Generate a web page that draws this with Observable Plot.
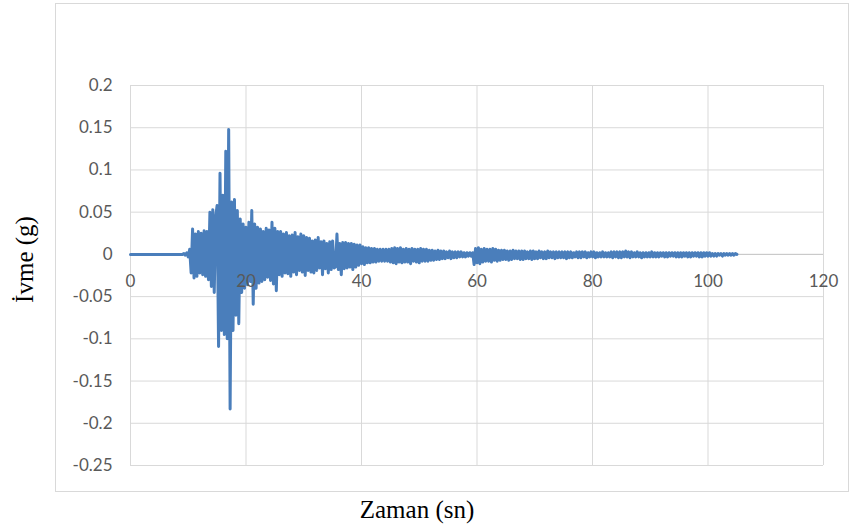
<!DOCTYPE html>
<html>
<head>
<meta charset="utf-8">
<script src="https://cdn.jsdelivr.net/npm/d3@7"></script>
<script src="https://cdn.jsdelivr.net/npm/@observablehq/plot@0.6"></script>
<style>
  html, body { margin: 0; padding: 0; background: #ffffff; }
  #wrap { position: relative; width: 850px; height: 527px; overflow: hidden; }
  #border { position: absolute; left: 55px; top: 3px; width: 792px; height: 487px; border: 1px solid #d9d9d9; box-sizing: content-box; }
  #wrap svg { position: absolute; left: 0; top: 0; }
</style>
</head>
<body>
<div id="wrap"><div id="border"></div></div>
<script>
// ---- data ----
const xTicks = [0, 20, 40, 60, 80, 100, 120];
const xTickLabels = ["0", "20", "40", "60", "80", "100", "120"];
const yTicks = [-0.25, -0.2, -0.15, -0.1, -0.05, 0, 0.05, 0.1, 0.15, 0.2];
const yTickLabels = ["-0.25", "-0.2", "-0.15", "-0.1", "-0.05", "0", "0.05", "0.1", "0.15", "0.2"];
const xTitle = "Zaman (sn)";
const yTitle = "İvme (g)";

// record is flat (0 g) from t = 0 s until the samples below start
const quietStart = 0;
const quietValue = 0;
// accelerogram samples, milli-g, one every 0.25 s starting at t = 9 s (4 per line = 1 s)
const sampleStart = 9;
const sampleStep = 0.25;
const accelMg = [
  0, 1, -1, 2,        // 9
  -3, 6, -22, 30,     // 10
  -28, 24, -26, 27,   // 11
  -22, 25, -24, 28,   // 12
  -26, 27, -30, 50,   // 13
  -38, 53, -45, 45,   // 14
  58, -109, 96, -90,  // 15
  70, -95, 122, -100, // 16
  148, -183, 62, -90, // 17
  65, -72, 52, -82,   // 18
  42, -45, 36, -40,   // 19
  32, -36, 38, -32,   // 20
  52, -59, 36, -40,   // 21
  32, -34, 30, -32,   // 22
  27, -30, 31, -27,   // 23
  29, -31, 38, -35,   // 24
  31, -43, 27, -24,   // 25
  27, -26, 24, -22,   // 26
  26, -23, 22, -26,   // 27
  23, -21, 26, -24,   // 28
  21, -19, 24, -21,   // 29
  22, -25, 20, -19,   // 30
  19, -21, 16, -22,   // 31
  17, -19, 20, -16,   // 32
  15, -24, 16, -17,   // 33
  13, -22, 15, -18,   // 34
  16, -16, -15, 24,   // 35
  -18, 13, -24, 14,   // 36
  -17, 14, -16, 13,   // 37
  -15, 13, -18, 12,   // 38
  -15, 11, -13, 11,   // 39
  -11, 9, -12, 8,     // 40
  -10, 8, -10, 7,     // 41
  -9, 7, -9, 6,       // 42
  -8, 6, -8, 6,       // 43
  -8, 6, -8, 6,       // 44
  -9, 7, -10, 8,      // 45
  -11, 7, -9, 8,      // 46
  -10, 6, -9, 7,      // 47
  -9, 6, -11, 7,      // 48
  -8, 6, -9, 6,       // 49
  -10, 7, -8, 6,      // 50
  -8, 6, -8, 5,       // 51
  -7, 5, -7, 4,       // 52
  -6, 5, -6, 4,       // 53
  -5, 4, -5, 3,       // 54
  -4, 4, -5, 3,       // 55
  -4, 3, -4, 3,       // 56
  -3, 3, -3, 2,       // 57
  -3, 2, -2, 2,       // 58
  -2, 2, -12, 7,      // 59
  -10, 8, -11, 6,     // 60
  -9, 7, -8, 6,       // 61
  -8, 6, -9, 7,       // 62
  -7, 6, -8, 5,       // 63
  -7, 5, -6, 5,       // 64
  -6, 4, -7, 4,       // 65
  -6, 5, -5, 4,       // 66
  -5, 4, -6, 4,       // 67
  -6, 4, -5, 3,       // 68
  -5, 4, -6, 4,       // 69
  -5, 3, -5, 4,       // 70
  -4, 3, -5, 3,       // 71
  -5, 4, -4, 3,       // 72
  -4, 3, -5, 3,       // 73
  -4, 3, -4, 3,       // 74
  -4, 3, -5, 3,       // 75
  -4, 3, -4, 2,       // 76
  -3, 3, -4, 3,       // 77
  -4, 3, -3, 3,       // 78
  -4, 2, -3, 3,       // 79
  -3, 3, -4, 2,       // 80
  -3, 2, -3, 3,       // 81
  -3, 2, -3, 2,       // 82
  -3, 3, -4, 3,       // 83
  -3, 3, -4, 3,       // 84
  -4, 3, -3, 4,       // 85
  -3, 3, -4, 3,       // 86
  -3, 2, -3, 3,       // 87
  -3, 2, -4, 2,       // 88
  -3, 2, -3, 2,       // 89
  -3, 3, -3, 2,       // 90
  -3, 2, -3, 2,       // 91
  -2, 2, -3, 2,       // 92
  -3, 2, -2, 2,       // 93
  -2, 2, -3, 2,       // 94
  -3, 2, -3, 2,       // 95
  -2, 2, -3, 2,       // 96
  -3, 2, -2, 2,       // 97
  -2, 2, -3, 2,       // 98
  -3, 2, -2, 2,       // 99
  -2, 2, -2, 1,       // 100
  -2, 1, -2, 1,       // 101
  -1, 1, -2, 1,       // 102
  -1, 1, -1, 1,       // 103
  -1, 1, -1, 1,       // 104
  0                   // 105
];

// ---- table for the library ----
const records = [{t: quietStart, a: quietValue}].concat(
  accelMg.map((v, i) => ({t: sampleStart + i * sampleStep, a: v / 1000}))
);

const labelColor = "#595959";
const gridColor = "#d9d9d9";
const lineColor = "#4a7ebb";

const chart = Plot.plot({
  width: 850,
  height: 527,
  marginLeft: 130,
  marginRight: 27,
  marginTop: 85,
  marginBottom: 62,
  style: {fontFamily: "Lato, 'Liberation Sans', sans-serif", fontSize: "17px", color: labelColor, background: "transparent", overflow: "visible"},
  x: {domain: [0, 120], axis: null},
  y: {domain: [-0.25, 0.2], axis: null},
  marks: [
    Plot.gridX(xTicks, {stroke: gridColor, strokeOpacity: 1, strokeWidth: 1}),
    Plot.gridY(yTicks, {stroke: gridColor, strokeOpacity: 1, strokeWidth: 1}),
    Plot.ruleY([0], {stroke: "#c8c8c8", strokeWidth: 1}),
    Plot.line(records, {x: "t", y: "a", stroke: lineColor, strokeWidth: 3, curve: "linear"}),
    Plot.axisY(yTicks, {
      anchor: "left", tickSize: 0, tickPadding: 18, label: null,
      tickFormat: d => yTickLabels[yTicks.indexOf(d)],
      fill: labelColor, fontSize: 17
    }),
    Plot.text(xTicks, {
      x: d => d, y: () => 0,
      text: (d, i) => xTickLabels[i],
      dy: 27, textAnchor: "middle", lineAnchor: "middle",
      fill: labelColor, fontSize: 17
    }),
    Plot.text([yTitle], {
      frameAnchor: "left", dx: -106, dy: -16, rotate: -90,
      textAnchor: "middle", lineAnchor: "middle",
      fontFamily: "'Liberation Serif', 'Times New Roman', serif",
      fontSize: 25, fill: "#000000"
    }),
    Plot.text([xTitle], {
      frameAnchor: "bottom", dx: -60, dy: 44,
      textAnchor: "middle", lineAnchor: "middle",
      fontFamily: "'Liberation Serif', 'Times New Roman', serif",
      fontSize: 25, fill: "#000000"
    })
  ]
});

document.getElementById("wrap").appendChild(chart);
</script>
</body>
</html>
